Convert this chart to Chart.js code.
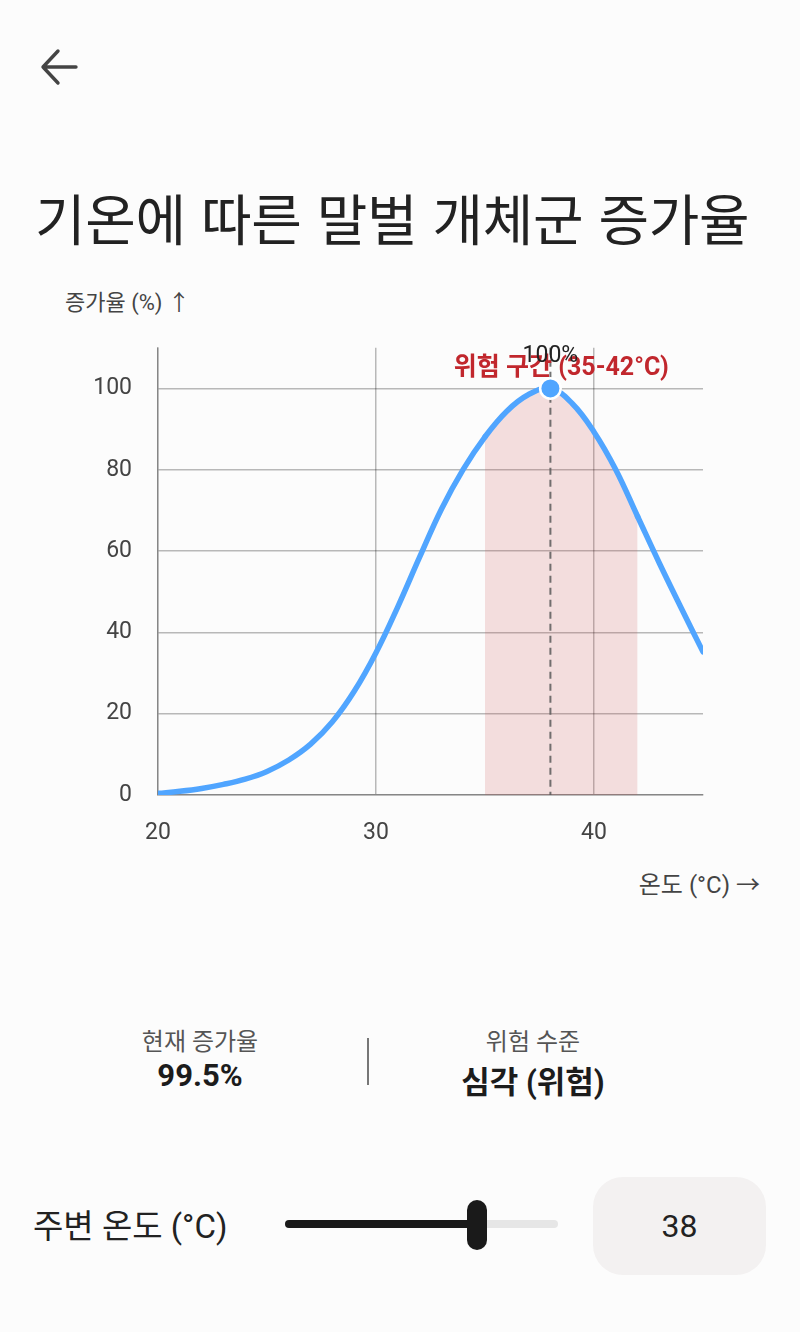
<!DOCTYPE html>
<html lang="ko">
<head>
<meta charset="utf-8">
<script src="https://cdn.jsdelivr.net/npm/chart.js@4.4.1/dist/chart.umd.min.js"></script>
<style>
  html, body { margin: 0; padding: 0; }
  body {
    width: 800px; height: 1332px; position: relative; overflow: hidden;
    background: #fcfcfc; color: #222;
    font-family: Roboto, "Noto Sans CJK KR", sans-serif;
  }
  .abs { position: absolute; white-space: nowrap; }
  .title { left: 35px; top: 176px; font-size: 55px; font-family: "Noto Sans CJK KR", sans-serif; font-weight: 400; color: #222; letter-spacing: -0.3px; }
  .axis-title { color: #444; }
  #chartBox { position: absolute; left: 40px; top: 308px; width: 680px; height: 542px; }
  .stat { text-align: center; width: 300px; }
  .stat .lbl { font-size: 24px; color: #555; }
  .stat .val { font-size: 31px; font-weight: 700; color: #1c1c1c; margin-top: 0px; }
  .divider { left: 367px; top: 1038px; width: 2px; height: 47px; background: #777; }
  .track { top: 1220px; height: 8px; border-radius: 4px; }
  .thumb { left: 467px; top: 1200px; width: 20px; height: 50px; border-radius: 10px; background: #1a1a1a; }
  .valbox { left: 593px; top: 1177px; width: 173px; height: 98px; border-radius: 30px; background: #f3f1f1; font-size: 32px; text-align: center; line-height: 98px; color: #222; }
</style>
</head>
<body>
<svg class="abs" style="left:0;top:0" width="100" height="100">
  <path d="M43 67 H76 M58 51 L43 67 L58 83" fill="none" stroke="#444" stroke-width="3.4" stroke-linecap="round" stroke-linejoin="round"/>
</svg>
<div class="abs title">기온에 따른 말벌 개체군 증가율</div>
<div class="abs axis-title" style="left:65px; top:284px; font-size:22px;">증가율 (%) ↑</div>
<div id="chartBox"><canvas id="growthChart"></canvas></div>
<div class="abs axis-title" style="right:40px; top:865px; font-size:24px;">온도 (°C) →</div>

<div class="abs stat" style="left:50px; top:1022px;"><div class="lbl">현재 증가율</div><div class="val">99.5%</div></div>
<div class="abs divider"></div>
<div class="abs stat" style="left:383px; top:1022px;"><div class="lbl">위험 수준</div><div class="val">심각 (위험)</div></div>

<div class="abs" style="left:33px; top:1200px; font-size:33px; color:#222;">주변 온도 (°C)</div>
<div class="abs track" style="left:285px; width:273px; background:#e6e6e6;"></div>
<div class="abs track" style="left:285px; width:190px; background:#1a1a1a;"></div>
<div class="abs thumb"></div>
<div class="abs valbox">38</div>

<script>
// 온도 (°C) 와 증가율 (%)
const temps = [20, 21, 22, 23, 24, 25, 26, 27, 28, 29, 30, 31, 32, 33, 34, 35, 36, 37, 38, 39, 40, 41, 42, 43, 44, 45];
const rates = [0.4, 0.9, 1.6, 2.6, 3.9, 5.8, 8.6, 12.5, 18.0, 25.5, 35.0, 46.3, 58.5, 70.3, 80.1, 88.1, 94.4, 98.5, 100, 96.3, 89.3, 80.0, 68.5, 57.0, 46.0, 35.2];
const xTicks = [20, 30, 40];
const yTicks = [0, 20, 40, 60, 80, 100];
const dangerZone = [35, 42];
const currentTemp = 38;
const peakLabel = '100%';
const zoneLabel = '위험 구간 (35-42°C)';

const FONT = 'Roboto, "Noto Sans CJK KR", sans-serif';
const blue = '#50a5ff';
const zoneFill = 'rgba(200, 60, 60, 0.16)';

const markers = {
    id: 'markers',
    afterDatasetsDraw(chart) {
        const { ctx, chartArea, scales: { x, y } } = chart;
        const px = x.getPixelForValue(currentTemp);
        ctx.save();
        // dashed current-temp line
        ctx.strokeStyle = 'rgba(90,90,90,0.85)';
        ctx.lineWidth = 2;
        ctx.setLineDash([7, 5]);
        ctx.beginPath();
        ctx.moveTo(px, chartArea.top);
        ctx.lineTo(px, chartArea.bottom);
        ctx.stroke();
        ctx.setLineDash([]);

        // zone label
        const zx = x.getPixelForValue((dangerZone[0] + dangerZone[1]) / 2);
        ctx.textAlign = 'center';
        ctx.textBaseline = 'middle';
        ctx.font = '700 25px ' + FONT;
        ctx.fillStyle = '#c1272d';
        ctx.fillText(zoneLabel, zx, chartArea.top + 21);

        // current point
        const i = temps.indexOf(currentTemp);
        const py = y.getPixelForValue(rates[i]);
        ctx.beginPath();
        ctx.arc(px, py, 11.5, 0, Math.PI * 2);
        ctx.fillStyle = '#ffffff';
        ctx.fill();
        ctx.beginPath();
        ctx.arc(px, py, 9, 0, Math.PI * 2);
        ctx.fillStyle = blue;
        ctx.fill();

        ctx.font = '400 23px ' + FONT;
        ctx.fillStyle = '#222';
        ctx.fillText(peakLabel, px, py - 32);
        ctx.restore();
    }
};

new Chart(document.getElementById('growthChart'), {
    type: 'line',
    data: {
        datasets: [{
            data: temps.map((t, i) => ({ x: t, y: rates[i] })),
            borderColor: blue,
            borderWidth: 5.5,
            borderCapStyle: 'round',
            tension: 0.4,
            pointRadius: 0,
            fill: 'origin',
            backgroundColor: 'transparent',
            segment: {
                backgroundColor: c => (c.p0.parsed.x >= dangerZone[0] && c.p1.parsed.x <= dangerZone[1]) ? zoneFill : 'transparent'
            }
        }]
    },
    options: {
        responsive: true,
        maintainAspectRatio: false,
        animation: false,
        layout: { padding: { top: 0, right: 17, left: 0, bottom: 0 } },
        plugins: { legend: { display: false }, tooltip: { enabled: false } },
        scales: {
            x: {
                type: 'linear', min: 20, max: 45,
                afterBuildTicks: s => { s.ticks = xTicks.map(v => ({ value: v })); },
                afterFit: s => { s.height = 55; },
                grid: { color: 'rgba(0,0,0,0.27)', lineWidth: 1.5, drawTicks: false },
                border: { color: 'rgba(0,0,0,0.27)', width: 1.5 },
                ticks: { color: '#444', font: { family: FONT, size: 23 }, padding: 24, maxRotation: 0 }
            },
            y: {
                min: 0, max: 110,
                afterBuildTicks: s => { s.ticks = yTicks.map(v => ({ value: v })); },
                afterFit: s => { s.width = 118; },
                grid: { color: 'rgba(0,0,0,0.27)', lineWidth: 1.5, drawTicks: false },
                border: { color: 'rgba(0,0,0,0.27)', width: 1.5 },
                ticks: { color: '#444', font: { family: FONT, size: 23 }, padding: 26 }
            }
        }
    },
    plugins: [markers]
});
</script>
</body>
</html>
